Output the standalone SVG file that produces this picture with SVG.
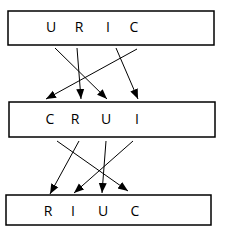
<svg xmlns="http://www.w3.org/2000/svg" width="229" height="235" viewBox="0 0 229 235">
<style>
.box{fill:#fff;stroke:#000;stroke-width:1.5}
.t{font-family:"Open Sans","Liberation Sans",sans-serif;font-size:14px;fill:#000;text-anchor:middle}
.c{stroke:#000;stroke-width:1;fill:none;marker-end:url(#ah)}
</style>
<defs>
<marker id="ah" markerUnits="userSpaceOnUse" markerWidth="10" markerHeight="10" viewBox="0 0 10 10" refX="10" refY="5" orient="auto">
<path d="M0,1 L10,5 L0,9 Z" fill="#000"/>
</marker>
</defs>
<g id="node-uric">
<rect class="box" x="8" y="11" width="206" height="34"/>
<text class="t" x="51" y="32">U</text>
<text class="t" x="79" y="32">R</text>
<text class="t" x="108" y="32">I</text>
<text class="t" x="134" y="32">C</text>
</g>
<g id="node-crui">
<rect class="box" x="9" y="102" width="206" height="35"/>
<text class="t" x="50" y="124">C</text>
<text class="t" x="75" y="124">R</text>
<text class="t" x="106" y="124">U</text>
<text class="t" x="137" y="124">I</text>
</g>
<g id="node-riuc">
<rect class="box" x="6" y="195" width="205" height="30"/>
<text class="t" x="48" y="216">R</text>
<text class="t" x="73" y="216">I</text>
<text class="t" x="103" y="216">U</text>
<text class="t" x="135" y="216">C</text>
</g>
<g id="connectors">
<line class="c" x1="55" y1="48" x2="107" y2="99"/>
<line class="c" x1="77" y1="48" x2="81" y2="99"/>
<line class="c" x1="116" y1="48" x2="138" y2="99"/>
<line class="c" x1="137" y1="49" x2="46" y2="99"/>
<line class="c" x1="57" y1="141" x2="128" y2="191"/>
<line class="c" x1="79" y1="141" x2="50" y2="194"/>
<line class="c" x1="106" y1="141" x2="102" y2="193"/>
<line class="c" x1="133" y1="141" x2="74" y2="193"/>
</g>
</svg>
